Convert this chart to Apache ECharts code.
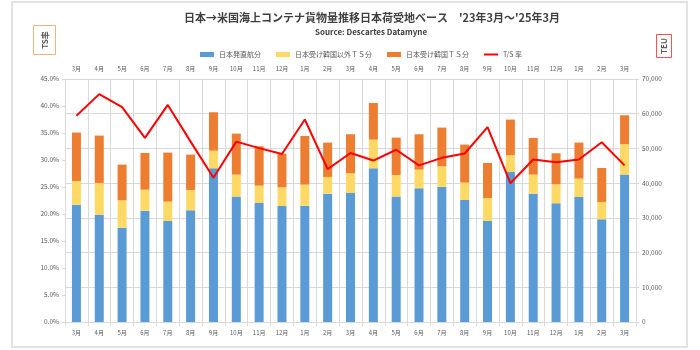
<!DOCTYPE html>
<html>
<head>
<meta charset="utf-8">
<script src="https://cdn.jsdelivr.net/npm/echarts@6/dist/echarts.min.js"></script>
<style>html,body{margin:0;padding:0;background:#fff}#c{width:700px;height:350px}</style>
</head>
<body>
<div id="c"></div>
<script>
var months = ['3月','4月','5月','6月','7月','8月','9月','10月','11月','12月','1月','2月','3月','4月','5月','6月','7月','8月','9月','10月','11月','12月','1月','2月','3月'];
var keys = ['2023-03','2023-04','2023-05','2023-06','2023-07','2023-08','2023-09','2023-10','2023-11','2023-12','2024-01','2024-02','2024-03','2024-04','2024-05','2024-06','2024-07','2024-08','2024-09','2024-10','2024-11','2024-12','2025-01','2025-02','2025-03'];
var direct = [33810,30930,27180,32080,29110,32180,44280,36120,34290,33430,33520,36980,37170,44280,36120,38520,38900,35160,29110,43230,36980,34200,36020,29590,42460];
var tsOther = [6820,9130,7880,6060,5570,5860,5090,6340,5000,5380,6060,4810,5670,8260,6240,5380,5960,4990,6620,4800,5480,5470,5290,4990,8740];
var tsKorea = [13930,13640,10280,10560,14120,10180,11050,11810,11330,9700,14020,9890,11240,10570,10760,10180,11140,10950,10090,10280,10570,8940,10370,9800,8360];
var tsRate = [38.2,42.2,39.8,34.1,40.2,33.4,26.7,33.4,32.2,31.1,37.5,28.3,31.3,29.9,31.9,29.0,30.4,31.2,36.1,25.7,30.1,29.6,30.1,33.3,29.0];
var seriesNames = ['日本発直航分','日本受け韓国以外ＴＳ分','日本受け韓国ＴＳ分','T/S 率'];
var titleText = '日本→米国海上コンテナ貨物量推移日本荷受地ベース　\'23年3月～\'25年3月';
var subText = 'Source: Descartes Datamyne';

var FONT = '"Noto Sans CJK JP","Noto Sans",sans-serif';
var gray = '#595959';
var lineGray = '#d9d9d9';
var chart = echarts.init(document.getElementById('c'));
function monthLabel(v, i) { return months[i]; }
var option = {
  animation: false,
  textStyle: { fontFamily: FONT },
  graphic: [
    { type: 'rect', shape: { x: 12, y: 2, width: 675, height: 345 }, style: { fill: 'none', stroke: '#e2e2e2', lineWidth: 2 }, silent: true },
    { type: 'text', style: { x: 372, y: 18, text: titleText, textAlign: 'center', textVerticalAlign: 'middle', font: 'bold 11px ' + FONT, fill: '#404040' } },
    { type: 'text', style: { x: 371, y: 32, text: subText, textAlign: 'center', textVerticalAlign: 'middle', font: 'bold 8px ' + FONT, fill: '#404040' } },
    { type: 'rect', shape: { x: 33.5, y: 25.5, width: 22, height: 29 }, style: { fill: '#fff', stroke: '#f4b183', lineWidth: 1 } },
    { type: 'text', x: 44.5, y: 40, rotation: Math.PI / 2, style: { x: 0, y: 0, text: 'TS率', textAlign: 'center', textVerticalAlign: 'middle', font: 'bold 8px ' + FONT, fill: gray } },
    { type: 'rect', shape: { x: 656.5, y: 34.5, width: 15, height: 23 }, style: { fill: '#fff', stroke: '#ff5050', lineWidth: 1 } },
    { type: 'text', x: 664, y: 46, rotation: Math.PI / 2, style: { x: 0, y: 0, text: 'TEU', textAlign: 'center', textVerticalAlign: 'middle', font: 'bold 8px ' + FONT, fill: gray } }
  ],
  legend: {
    left: 195, top: 46,
    itemWidth: 14, itemHeight: 5, itemGap: 15,
    textStyle: { fontSize: 7, color: gray, fontFamily: FONT },
    data: [
      { name: seriesNames[0], icon: 'rect' },
      { name: seriesNames[1], icon: 'rect' },
      { name: seriesNames[2], icon: 'rect' },
      { name: seriesNames[3], icon: 'path://M0,0H14V2H0Z', symbolKeepAspect: true }
    ]
  },
  grid: { left: 65, right: 64, top: 79, bottom: 28 },
  xAxis: [
    {
      type: 'category', position: 'bottom', data: keys,
      axisLine: { lineStyle: { color: lineGray } },
      axisTick: { show: true, interval: 0, length: 4, lineStyle: { color: lineGray } },
      axisLabel: { interval: 0, formatter: monthLabel, fontSize: 6, color: gray, margin: 8 },
      splitLine: { show: true, interval: 0, lineStyle: { color: lineGray } }
    },
    {
      type: 'category', position: 'top', data: keys,
      axisLine: { lineStyle: { color: lineGray } },
      axisTick: { show: false },
      axisLabel: { interval: 0, formatter: monthLabel, fontSize: 6, color: gray, margin: 7 },
      splitLine: { show: false }
    }
  ],
  yAxis: [
    {
      type: 'value', position: 'left', min: 0, max: 45, interval: 5,
      axisLine: { show: true, lineStyle: { color: lineGray } },
      axisTick: { show: true, length: 3, lineStyle: { color: lineGray } },
      axisLabel: { formatter: function (v) { return v.toFixed(1) + '%'; }, fontSize: 6.5, color: gray, margin: 6 },
      splitLine: { show: false }
    },
    {
      type: 'value', position: 'right', min: 0, max: 70000, interval: 10000,
      axisLine: { show: true, lineStyle: { color: lineGray } },
      axisTick: { show: true, length: 3, lineStyle: { color: lineGray } },
      axisLabel: { formatter: function (v) { return v.toLocaleString('en-US'); }, fontSize: 6.5, color: gray, margin: 6 },
      splitLine: { show: true, lineStyle: { color: lineGray } }
    }
  ],
  series: [
    { name: seriesNames[0], type: 'bar', stack: 'teu', yAxisIndex: 1, barWidth: 9, data: direct, itemStyle: { color: '#5b9bd5' } },
    { name: seriesNames[1], type: 'bar', stack: 'teu', yAxisIndex: 1, barWidth: 9, data: tsOther, itemStyle: { color: '#ffd966' } },
    { name: seriesNames[2], type: 'bar', stack: 'teu', yAxisIndex: 1, barWidth: 9, data: tsKorea, itemStyle: { color: '#ed7d31' } },
    { name: seriesNames[3], type: 'line', yAxisIndex: 0, data: tsRate, symbol: 'none', lineStyle: { color: '#ff0000', width: 2 }, itemStyle: { color: '#ff0000' }, z: 5 }
  ]
};
chart.setOption(option);
</script>
</body>
</html>
